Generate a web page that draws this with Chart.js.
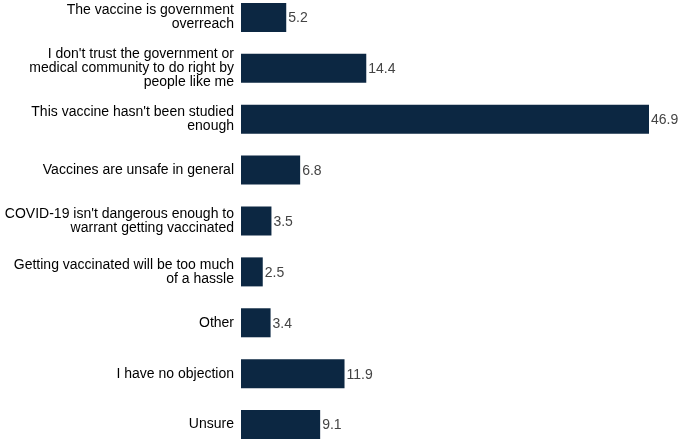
<!DOCTYPE html>
<html>
<head>
<meta charset="utf-8">
<script src="https://cdn.jsdelivr.net/npm/chart.js@4/dist/chart.umd.min.js"></script>
<style>
html,body{margin:0;padding:0;background:#fff;overflow:hidden;}
#wrap{position:absolute;left:0;top:-8px;width:679px;height:458px;}
</style>
</head>
<body>
<div id="wrap"><canvas id="c"></canvas></div>
<script>
const categories = [
  ["The vaccine is government", "overreach"],
  ["I don't trust the government or", "medical community to do right by", "people like me"],
  ["This vaccine hasn't been studied", "enough"],
  "Vaccines are unsafe in general",
  ["COVID-19 isn't dangerous enough to", "warrant getting vaccinated"],
  ["Getting vaccinated will be too much", "of a hassle"],
  "Other",
  "I have no objection",
  "Unsure"
];
const values = [5.2, 14.4, 46.9, 6.8, 3.5, 2.5, 3.4, 11.9, 9.1];

const valueLabels = {
  id: 'valueLabels',
  afterDatasetsDraw(chart) {
    const ctx = chart.ctx;
    const meta = chart.getDatasetMeta(0);
    ctx.save();
    ctx.font = '14px "Liberation Sans", Arial, sans-serif';
    ctx.fillStyle = '#444444';
    ctx.textAlign = 'left';
    ctx.textBaseline = 'middle';
    meta.data.forEach((bar, i) => {
      ctx.fillText(values[i].toFixed(1), bar.x + 2, bar.y + 1);
    });
    ctx.restore();
  }
};

new Chart(document.getElementById('c'), {
  type: 'bar',
  data: {
    labels: categories,
    datasets: [{
      data: values,
      backgroundColor: '#0c2742',
      borderWidth: 0,
      categoryPercentage: 0.57,
      barPercentage: 1.0
    }]
  },
  options: {
    indexAxis: 'y',
    responsive: true,
    maintainAspectRatio: false,
    animation: false,
    layout: { padding: { left: 0, right: 30, top: 0, bottom: 0 } },
    plugins: { legend: { display: false }, tooltip: { enabled: false } },
    scales: {
      x: { display: false, min: 0, max: 46.9 },
      y: {
        grid: { display: false, drawTicks: false },
        border: { display: false },
        afterFit(scale) {
          scale.width = 241;
          scale.paddingTop = 0;
          scale.paddingBottom = 0;
        },
        ticks: {
          padding: 7,
          color: '#000000',
          font: { family: '"Liberation Sans", Arial, sans-serif', size: 14, lineHeight: 1.0 }
        }
      }
    }
  },
  plugins: [valueLabels]
});
</script>
</body>
</html>
